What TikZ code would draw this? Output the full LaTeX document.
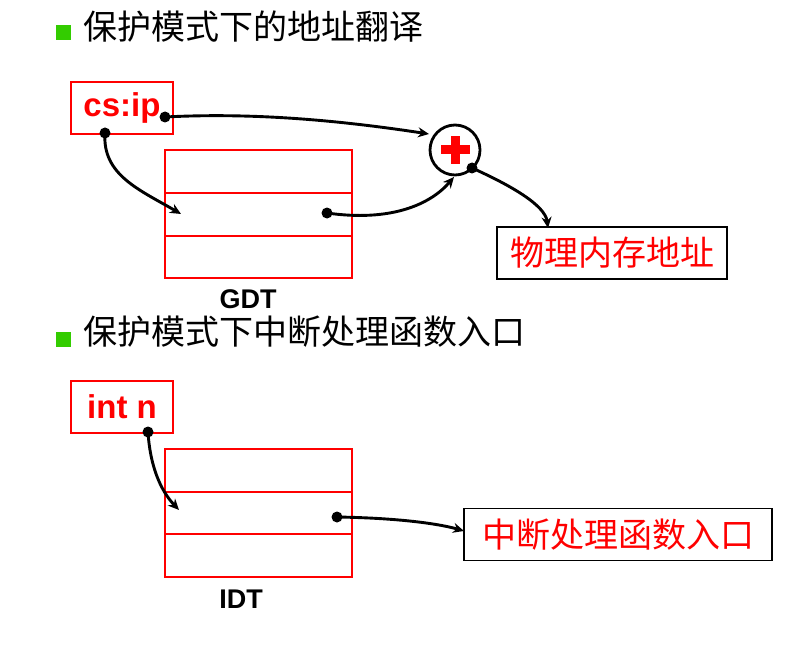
\documentclass[tikz,border=0pt]{standalone}
\usepackage{fontspec}
\setmainfont{Liberation Sans}
\newfontfamily\cjk{Noto Sans CJK SC}
\usetikzlibrary{arrows.meta}
\definecolor{bulletgreen}{RGB}{51,204,0}
\begin{document}
\begin{tikzpicture}[x=1pt,y=-1pt,
  redbox/.style={draw=red,line width=1.2pt,minimum width=102pt,minimum height=52pt,inner sep=0pt},
  tbl/.style={draw=red,line width=1.4pt,minimum width=187pt,minimum height=128pt,inner sep=0pt},
  tblline/.style={draw=red,line width=1.4pt},
  outbox/.style={draw=black,line width=1.6pt,inner sep=0pt,minimum height=52pt},
  dotnode/.style={circle,fill=black,inner sep=0pt,minimum size=11pt},
  conn/.style={line width=2.9pt,-{Stealth[length=11pt,width=10pt]}},
  title/.style={anchor=west,font=\cjk\fontsize{34}{38}\selectfont},
  bullet/.style={fill=bulletgreen,inner sep=0pt,minimum size=15pt}
]
\useasboundingbox (0,0) rectangle (786,655);
% titles
\node[bullet] (b1) at (63,33) {};
\node[title] (t1) at (80,27) {保护模式下的地址翻译};
\node[bullet] (b2) at (63,339) {};
\node[title] (t2) at (80,332) {保护模式下中断处理函数入口};
% cs:ip box
\node[redbox,font=\fontsize{33}{36}\selectfont\bfseries,text=red] (csip) at (122,108) {cs:ip};
% GDT table
\node[tbl] (gdtt) at (258.5,214) {};
\draw[tblline] (165,193) -- (352,193);
\draw[tblline] (165,236) -- (352,236);
\node[font=\fontsize{27}{30}\selectfont\bfseries] (gdt) at (248,299) {GDT};
% plus circle
\node[circle,draw=black,line width=2.8pt,minimum size=50pt,inner sep=0pt] (plus) at (455,150) {};
\fill[red] (441,145.5) rectangle (470,154.5);
\fill[red] (451,136) rectangle (460,164);
% physical address box
\node[outbox,minimum width=230pt,text=red,font=\cjk\fontsize{34}{36}\selectfont] (phys) at (612,253) {物理内存地址};
% dots
\node[dotnode] (d1) at (165,117) {};
\node[dotnode] (d2) at (105,133) {};
\node[dotnode] (d3) at (327,213) {};
\node[dotnode] (d4) at (472,168) {};
\coordinate (e2) at (181,214);
\coordinate (e1) at (429,134);
\coordinate (e3) at (454,177);
\coordinate (e4) at (548,228);
\draw[conn] (d1.center) .. controls (260,112) and (350,122) .. (e1);
\draw[conn] (d2.center) .. controls (102,175) and (140,190) .. (e2);
\draw[conn] (d3.center) .. controls (390,222) and (430,205) .. (e3);
\draw[conn] (d4.center) .. controls (510,185) and (545,205) .. (e4);
% int n box
\node[redbox,font=\fontsize{33}{36}\selectfont\bfseries,text=red] (intn) at (122,407) {int n};
% IDT table
\node[tbl] (idtt) at (258.5,513) {};
\draw[tblline] (165,492) -- (352,492);
\draw[tblline] (165,534) -- (352,534);
\node[font=\fontsize{27}{30}\selectfont\bfseries] (idt) at (241,599) {IDT};
% handler box
\node[outbox,minimum width=308pt,text=red,font=\cjk\fontsize{34}{36}\selectfont] (hand) at (618,534.5) {中断处理函数入口};
\node[dotnode] (d5) at (148,432) {};
\node[dotnode] (d6) at (337,517) {};
\coordinate (e5) at (179,510);
\coordinate (e6) at (464,531);
\draw[conn] (d5.center) .. controls (150,465) and (160,490) .. (e5);
\draw[conn] (d6.center) .. controls (400,518) and (440,524) .. (e6);
\end{tikzpicture}
\end{document}
